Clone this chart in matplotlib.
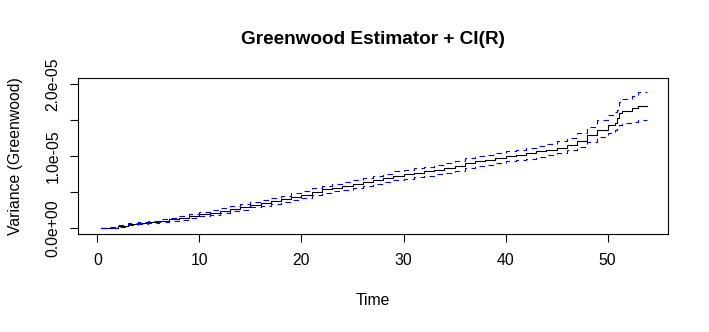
import matplotlib
matplotlib.use("Agg")
import matplotlib.pyplot as plt

plt.rcParams['font.family'] = ['Liberation Sans', 'DejaVu Sans']

# step times and Greenwood variance (in units of 1e-05)
time = [0.4, 1, 2, 3, 4, 5, 6, 7, 8, 9, 10, 11, 12, 13, 14, 15, 16, 17, 18, 19,
        20, 21, 22, 23, 24, 25, 26, 27, 28, 29, 30, 31, 32, 33, 34, 35, 36, 37,
        38, 39, 40, 41, 42, 43, 44, 45, 46, 47, 48, 49, 50, 50.7, 50.9, 51.1,
        51.4, 52.4, 53.0, 53.9]
var_est = [0.0, 0.01, 0.035, 0.055, 0.07, 0.085, 0.105, 0.125, 0.145, 0.17,
           0.20, 0.22, 0.245, 0.27, 0.30, 0.33, 0.355, 0.38, 0.41, 0.44,
           0.47, 0.51, 0.54, 0.565, 0.59, 0.615, 0.64, 0.67, 0.70, 0.73,
           0.75, 0.77, 0.79, 0.815, 0.84, 0.87, 0.91, 0.935, 0.955, 0.98,
           1.00, 1.02, 1.045, 1.07, 1.09, 1.12, 1.16, 1.21, 1.29, 1.37,
           1.44, 1.47, 1.53, 1.60, 1.63, 1.67, 1.70, 1.70]
ci_upper = [0.01, 0.025, 0.05, 0.07, 0.085, 0.10, 0.125, 0.145, 0.17, 0.20,
            0.23, 0.25, 0.28, 0.305, 0.34, 0.37, 0.395, 0.42, 0.455, 0.485,
            0.52, 0.56, 0.59, 0.615, 0.645, 0.67, 0.70, 0.73, 0.76, 0.79,
            0.81, 0.835, 0.855, 0.88, 0.905, 0.94, 0.98, 1.005, 1.025, 1.05,
            1.07, 1.09, 1.12, 1.145, 1.17, 1.21, 1.26, 1.32, 1.41, 1.50,
            1.57, 1.62, 1.65, 1.76, 1.80, 1.84, 1.89, 1.89]
ci_lower = [0.0, 0.0, 0.025, 0.04, 0.055, 0.07, 0.085, 0.105, 0.12, 0.14,
            0.17, 0.19, 0.21, 0.235, 0.26, 0.29, 0.315, 0.34, 0.365, 0.395,
            0.42, 0.46, 0.49, 0.515, 0.535, 0.56, 0.585, 0.61, 0.645, 0.67,
            0.69, 0.71, 0.73, 0.75, 0.775, 0.80, 0.84, 0.865, 0.885, 0.91,
            0.93, 0.95, 0.97, 0.995, 1.02, 1.05, 1.09, 1.13, 1.20, 1.27,
            1.33, 1.36, 1.38, 1.44, 1.46, 1.48, 1.50, 1.50]

x_ticks = [0, 10, 20, 30, 40, 50]
y_ticks = [0, 0.5e-5, 1e-5, 1.5e-5, 2e-5]
y_labels = ["0.0e+00", "", "1.0e-05", "", "2.0e-05"]

scale = 1e-5
fig = plt.figure(figsize=(7.09, 3.32), dpi=100)
ax = fig.add_axes([0.110, 0.295, 0.832, 0.469])

ax.plot(time, [v * scale for v in var_est], color='black', lw=0.8,
        drawstyle='steps-post')
ax.plot(time, [v * scale for v in ci_upper], color='#0000FF', lw=0.8,
        drawstyle='steps-post', dashes=(5, 4))
ax.plot(time, [v * scale for v in ci_lower], color='#0000FF', lw=0.8,
        drawstyle='steps-post', dashes=(5, 4))

ax.set_xlim(-1.9, 55.9)
ax.set_ylim(-0.079e-5, 2.083e-5)
ax.set_xticks(x_ticks)
ax.set_xticklabels([str(t) for t in x_ticks])
ax.set_yticks(y_ticks)
ax.set_yticklabels(y_labels, rotation=90, va='center')

for s in ax.spines.values():
    s.set_linewidth(0.8)
ax.tick_params(axis='both', direction='out', length=5.5, width=0.8,
               labelsize=11.3)
ax.tick_params(axis='x', pad=8)
ax.tick_params(axis='y', pad=7)

fig.text(0.526, 0.88, "Greenwood Estimator + CI(R)", ha='center',
         va='center', fontsize=13.7, fontweight='bold')
fig.text(0.526, 0.096, "Time", ha='center', va='center', fontsize=11.3)
fig.text(0.022, 0.53, "Variance (Greenwood)", ha='center', va='center',
         rotation=90, fontsize=11.3)

fig.savefig("out.png", dpi=100)
